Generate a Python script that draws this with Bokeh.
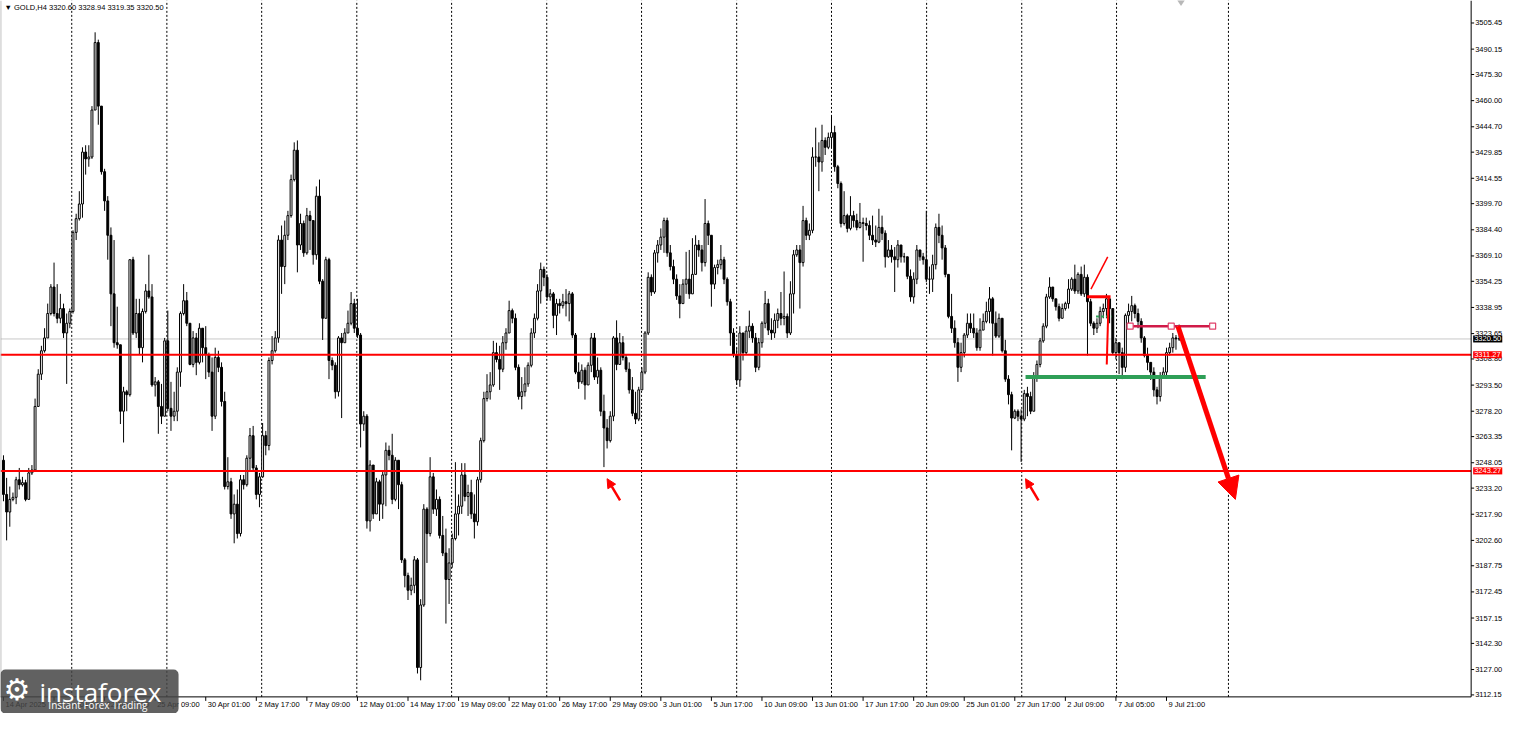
import numpy as np
from bokeh.plotting import figure
from bokeh.models import (Range1d, Label, Arrow, NormalHead, BoxAnnotation, ColumnDataSource)
from bokeh.core.properties import value
from bokeh.embed import file_html
from bokeh.resources import INLINE

FONT = "Liberation Sans"

# ---------------- data (GOLD, H4) ----------------
first_open = 3249.5
close = [
    3229.5, 3219.2, 3226.6, 3227.8, 3238.1, 3235.2, 3236.4, 3226.6, 3242.1, 3243.8,
    3281.0, 3299.9, 3313.6, 3321.1, 3335.4, 3350.9, 3335.4, 3332.6, 3338.3, 3324.0,
    3329.7, 3336.6, 3382.9, 3390.9, 3399.5, 3429.9, 3425.9, 3427.0, 3454.5, 3494.0,
    3456.8, 3418.4, 3401.3, 3381.2, 3346.9, 3318.3, 3317.1, 3278.2, 3289.6, 3287.9,
    3366.9, 3324.0, 3335.4, 3315.4, 3336.6, 3348.6, 3345.1, 3293.6, 3295.4, 3281.0,
    3275.3, 3319.4, 3279.9, 3275.3, 3278.2, 3301.1, 3335.4, 3342.9, 3329.7, 3305.6,
    3321.1, 3306.8, 3326.8, 3315.4, 3311.4, 3301.1, 3275.3, 3309.7, 3303.9, 3283.9,
    3234.1, 3236.9, 3218.1, 3223.8, 3206.6, 3238.1, 3235.2, 3250.7, 3263.9, 3245.0,
    3229.5, 3239.8, 3263.9, 3258.1, 3307.9, 3313.6, 3321.1, 3378.4, 3362.9, 3381.2,
    3392.7, 3413.8, 3431.0, 3375.5, 3388.1, 3370.9, 3392.7, 3389.8, 3369.8, 3404.1,
    3354.3, 3332.6, 3366.9, 3307.9, 3305.1, 3289.6, 3321.1, 3318.3, 3324.0, 3329.7,
    3341.2, 3326.8, 3322.8, 3270.7, 3275.3, 3214.0, 3246.7, 3218.1, 3236.9, 3223.8,
    3240.9, 3255.3, 3252.4, 3226.6, 3249.5, 3235.2, 3191.2, 3182.0, 3173.4, 3176.3,
    3191.2, 3128.2, 3164.8, 3220.9, 3206.6, 3239.8, 3220.9, 3226.6, 3205.5, 3195.2,
    3179.7, 3189.4, 3203.7, 3218.1, 3222.6, 3240.9, 3228.3, 3230.6, 3218.1, 3213.5,
    3238.1, 3261.0, 3285.6, 3289.6, 3293.6, 3312.5, 3308.5, 3302.8, 3318.3, 3324.0,
    3337.1, 3332.6, 3303.9, 3286.8, 3289.6, 3294.2, 3305.1, 3324.0, 3332.6, 3348.6,
    3361.2, 3356.6, 3345.1, 3346.9, 3334.3, 3341.2, 3340.0, 3342.3, 3341.2, 3346.9,
    3322.8, 3301.1, 3295.4, 3302.2, 3293.6, 3305.1, 3321.1, 3298.2, 3302.2, 3278.2,
    3268.4, 3261.0, 3275.3, 3321.1, 3305.6, 3318.3, 3309.7, 3302.8, 3290.7, 3277.0,
    3273.6, 3290.7, 3301.1, 3324.0, 3356.6, 3348.0, 3370.9, 3375.5, 3380.1, 3389.8,
    3370.9, 3362.9, 3355.5, 3345.7, 3341.2, 3352.6, 3355.5, 3346.9, 3358.3, 3375.5,
    3372.6, 3365.2, 3388.1, 3381.2, 3352.6, 3362.3, 3364.0, 3366.9, 3355.5, 3342.3,
    3324.0, 3311.4, 3296.5, 3324.0, 3312.5, 3325.1, 3328.0, 3321.1, 3303.9, 3318.3,
    3329.7, 3341.2, 3325.7, 3324.0, 3331.4, 3335.4, 3332.6, 3333.7, 3324.0, 3346.9,
    3369.8, 3372.6, 3365.2, 3389.8, 3381.2, 3384.1, 3427.0, 3427.0, 3424.1, 3436.7,
    3432.7, 3438.5, 3441.3, 3421.3, 3411.5, 3388.1, 3392.7, 3385.2, 3392.7, 3389.8,
    3385.8, 3388.6, 3388.1, 3386.9, 3381.2, 3378.4, 3377.2, 3385.8, 3382.4, 3368.6,
    3372.6, 3368.6, 3366.9, 3375.5, 3368.6, 3368.6, 3357.2, 3345.1, 3355.5, 3372.6,
    3368.6, 3366.9, 3355.5, 3355.5, 3364.0, 3385.8, 3381.2, 3373.8, 3358.3, 3333.7,
    3326.8, 3318.3, 3303.9, 3312.5, 3322.8, 3329.7, 3326.8, 3324.0, 3315.4, 3325.7,
    3330.8, 3336.6, 3344.0, 3329.7, 3322.2, 3332.6, 3313.6, 3297.0, 3287.9, 3274.2,
    3278.2, 3275.3, 3273.6, 3288.5, 3286.8, 3278.2, 3298.2, 3305.6, 3319.4, 3328.0,
    3345.1, 3350.9, 3344.0, 3339.4, 3332.6, 3338.3, 3341.2, 3349.7, 3355.5, 3348.6,
    3358.3, 3346.9, 3356.6, 3342.3, 3329.7, 3326.8, 3329.7, 3336.6, 3338.3, 3344.0,
    3338.3, 3312.5, 3318.3, 3312.5, 3303.9, 3334.3, 3336.6, 3340.0, 3335.4, 3330.8,
    3321.1, 3310.8, 3306.8, 3301.1, 3290.7, 3286.8, 3298.2, 3301.1, 3312.5, 3315.4,
    3321.1, 3320.6, 3320.5,
]
high = [
    3252.4, 3239.2, 3234.1, 3230.6, 3239.8, 3245.0, 3239.8, 3238.1, 3245.0, 3246.7,
    3285.6, 3302.8, 3316.5, 3326.8, 3341.2, 3352.6, 3365.2, 3352.6, 3346.9, 3341.2,
    3335.4, 3338.3, 3384.1, 3393.8, 3407.0, 3432.7, 3433.9, 3433.9, 3456.8, 3500.0,
    3495.7, 3455.0, 3420.1, 3404.1, 3385.8, 3378.4, 3339.4, 3317.1, 3292.5, 3290.7,
    3366.9, 3368.6, 3344.0, 3344.0, 3338.3, 3352.6, 3369.8, 3352.6, 3298.2, 3296.5,
    3294.2, 3321.1, 3337.1, 3295.4, 3289.6, 3303.9, 3336.6, 3352.6, 3348.0, 3329.7,
    3325.1, 3324.0, 3329.7, 3324.0, 3328.0, 3312.5, 3309.7, 3315.4, 3313.6, 3306.8,
    3289.6, 3251.3, 3239.2, 3229.5, 3232.4, 3240.9, 3240.9, 3252.4, 3268.4, 3269.6,
    3246.7, 3242.1, 3271.3, 3266.7, 3309.7, 3322.2, 3325.1, 3381.2, 3386.9, 3389.8,
    3395.5, 3416.7, 3435.6, 3436.7, 3393.8, 3389.8, 3397.2, 3395.5, 3386.9, 3409.8,
    3413.8, 3355.5, 3368.6, 3368.0, 3309.7, 3306.8, 3322.2, 3324.0, 3326.8, 3337.1,
    3348.0, 3344.0, 3344.0, 3324.0, 3278.2, 3276.5, 3249.5, 3243.8, 3239.2, 3238.1,
    3243.8, 3259.9, 3258.1, 3265.0, 3251.3, 3239.8, 3236.9, 3192.3, 3183.7, 3180.8,
    3193.4, 3192.3, 3168.2, 3223.8, 3222.0, 3251.3, 3242.1, 3232.4, 3228.3, 3216.9,
    3209.5, 3198.0, 3206.6, 3248.4, 3229.5, 3247.8, 3247.8, 3235.2, 3238.1, 3229.5,
    3239.8, 3262.7, 3289.6, 3299.9, 3301.1, 3319.4, 3318.3, 3316.5, 3322.2, 3326.8,
    3342.9, 3338.3, 3335.4, 3305.6, 3298.2, 3303.9, 3306.8, 3326.8, 3335.4, 3352.6,
    3365.2, 3362.9, 3358.3, 3349.7, 3348.0, 3344.0, 3344.0, 3346.9, 3349.7, 3348.6,
    3348.0, 3324.0, 3306.8, 3305.6, 3303.9, 3306.8, 3324.0, 3324.0, 3309.7, 3303.9,
    3287.9, 3273.6, 3278.2, 3322.2, 3331.4, 3324.0, 3322.2, 3311.4, 3306.8, 3298.2,
    3289.6, 3292.5, 3303.9, 3325.1, 3359.5, 3358.3, 3372.6, 3378.4, 3385.2, 3391.5,
    3391.5, 3375.5, 3366.9, 3358.3, 3352.6, 3355.5, 3371.5, 3372.6, 3379.5, 3381.2,
    3378.4, 3375.5, 3402.4, 3389.8, 3381.2, 3364.0, 3366.9, 3375.5, 3368.6, 3356.6,
    3344.0, 3326.8, 3315.4, 3328.0, 3321.1, 3328.0, 3337.1, 3329.7, 3324.0, 3321.1,
    3330.8, 3348.6, 3344.0, 3332.6, 3335.4, 3338.3, 3348.0, 3360.0, 3335.4, 3354.3,
    3372.6, 3375.5, 3375.5, 3398.4, 3391.5, 3388.1, 3432.7, 3444.2, 3435.6, 3445.9,
    3438.5, 3441.3, 3451.0, 3445.3, 3422.4, 3412.7, 3407.0, 3393.8, 3404.1, 3395.5,
    3393.8, 3400.1, 3391.5, 3391.5, 3389.8, 3392.7, 3386.9, 3396.7, 3392.7, 3384.1,
    3378.4, 3375.5, 3374.3, 3378.4, 3375.5, 3370.9, 3368.6, 3361.2, 3359.5, 3375.5,
    3372.6, 3370.9, 3395.5, 3362.9, 3369.8, 3388.1, 3393.8, 3386.9, 3375.5, 3358.3,
    3346.9, 3331.4, 3321.1, 3318.3, 3324.0, 3335.4, 3335.4, 3335.4, 3326.8, 3332.6,
    3335.4, 3342.3, 3350.9, 3345.1, 3336.6, 3335.4, 3329.7, 3320.0, 3299.3, 3289.6,
    3279.3, 3279.3, 3279.3, 3290.7, 3292.5, 3289.6, 3301.1, 3307.9, 3321.1, 3329.7,
    3346.9, 3356.6, 3350.9, 3344.0, 3341.2, 3341.2, 3342.3, 3355.5, 3356.6, 3364.0,
    3359.5, 3362.9, 3364.0, 3358.3, 3344.0, 3330.8, 3332.6, 3339.4, 3341.2, 3346.9,
    3344.0, 3338.3, 3321.1, 3318.3, 3315.4, 3335.4, 3341.2, 3345.7, 3341.2, 3338.3,
    3332.6, 3322.2, 3315.4, 3306.8, 3303.9, 3292.5, 3301.1, 3303.9, 3315.4, 3318.3,
    3324.0, 3322.8, 3328.94,
]
low = [
    3225.5, 3202.6, 3210.6, 3225.5, 3223.8, 3232.4, 3234.1, 3225.5, 3226.6, 3240.9,
    3242.7, 3281.0, 3296.5, 3312.5, 3321.1, 3334.3, 3333.7, 3329.7, 3329.7, 3321.1,
    3294.2, 3326.8, 3335.4, 3378.4, 3389.8, 3391.5, 3416.7, 3421.3, 3425.9, 3454.5,
    3445.9, 3416.7, 3395.5, 3366.9, 3328.0, 3315.4, 3314.8, 3270.7, 3259.9, 3278.2,
    3286.8, 3322.8, 3321.1, 3311.4, 3306.8, 3335.4, 3344.0, 3292.5, 3286.8, 3265.0,
    3270.7, 3275.3, 3278.2, 3266.7, 3272.4, 3272.4, 3292.5, 3334.3, 3328.0, 3305.1,
    3303.9, 3299.3, 3305.6, 3306.8, 3297.0, 3298.2, 3266.7, 3273.6, 3301.1, 3281.0,
    3232.4, 3232.4, 3215.2, 3200.9, 3203.7, 3204.9, 3232.4, 3234.1, 3243.8, 3242.7,
    3226.6, 3222.0, 3239.2, 3252.4, 3255.3, 3305.6, 3312.5, 3318.3, 3346.9, 3352.6,
    3378.4, 3391.5, 3412.7, 3359.5, 3372.6, 3368.6, 3369.8, 3372.6, 3364.0, 3366.9,
    3352.6, 3319.9, 3335.4, 3297.0, 3302.2, 3285.6, 3286.8, 3274.2, 3319.4, 3324.0,
    3328.5, 3324.0, 3321.1, 3257.0, 3266.7, 3209.5, 3207.8, 3215.2, 3220.9, 3214.0,
    3215.2, 3222.6, 3249.5, 3223.8, 3225.5, 3220.9, 3189.4, 3175.1, 3167.7, 3170.5,
    3171.7, 3124.7, 3120.7, 3163.7, 3189.4, 3204.9, 3218.1, 3216.9, 3203.7, 3193.4,
    3153.9, 3165.4, 3186.6, 3202.6, 3205.5, 3218.1, 3225.5, 3216.9, 3215.2, 3203.7,
    3211.2, 3236.4, 3259.9, 3283.9, 3285.0, 3292.5, 3306.8, 3290.7, 3301.1, 3314.2,
    3324.0, 3329.7, 3302.2, 3285.0, 3279.3, 3286.8, 3292.5, 3303.9, 3321.1, 3331.4,
    3341.2, 3351.4, 3342.9, 3342.9, 3326.8, 3322.8, 3335.4, 3338.3, 3333.7, 3330.8,
    3321.1, 3299.9, 3291.3, 3294.2, 3285.0, 3298.2, 3301.1, 3296.5, 3294.2, 3275.3,
    3245.5, 3256.4, 3259.9, 3272.4, 3302.2, 3306.8, 3307.9, 3301.1, 3288.5, 3275.3,
    3270.7, 3272.4, 3290.7, 3299.9, 3322.8, 3345.7, 3346.9, 3365.2, 3372.6, 3370.9,
    3368.6, 3360.6, 3352.6, 3343.4, 3332.6, 3341.2, 3346.9, 3344.0, 3346.9, 3369.8,
    3368.6, 3360.0, 3362.9, 3375.5, 3339.4, 3349.7, 3358.3, 3361.2, 3352.6, 3340.0,
    3316.5, 3309.7, 3293.6, 3292.5, 3307.9, 3311.4, 3321.1, 3318.3, 3301.1, 3302.2,
    3315.4, 3326.8, 3322.8, 3320.0, 3321.1, 3326.8, 3328.5, 3328.5, 3321.1, 3322.8,
    3335.4, 3368.6, 3338.3, 3362.9, 3378.4, 3378.4, 3382.4, 3421.3, 3407.0, 3418.4,
    3428.2, 3431.6, 3432.7, 3418.4, 3408.7, 3385.8, 3386.9, 3382.9, 3384.1, 3385.8,
    3384.1, 3385.2, 3365.7, 3384.1, 3378.4, 3375.5, 3374.3, 3376.6, 3378.4, 3362.3,
    3368.0, 3365.2, 3348.0, 3362.3, 3365.2, 3365.2, 3355.5, 3342.3, 3341.2, 3352.6,
    3366.3, 3364.0, 3353.7, 3346.9, 3348.0, 3361.2, 3376.6, 3366.9, 3356.6, 3332.6,
    3324.0, 3315.4, 3295.4, 3301.1, 3309.7, 3321.1, 3324.0, 3321.1, 3313.6, 3313.6,
    3326.8, 3329.7, 3329.7, 3310.8, 3321.1, 3321.1, 3312.5, 3295.4, 3282.2, 3255.3,
    3273.6, 3272.4, 3248.5, 3272.4, 3275.3, 3276.5, 3278.2, 3295.4, 3303.9, 3318.3,
    3326.8, 3344.0, 3342.3, 3337.1, 3330.8, 3332.6, 3337.1, 3338.3, 3348.6, 3346.9,
    3346.9, 3345.7, 3345.1, 3310.8, 3328.0, 3322.8, 3324.0, 3328.0, 3332.6, 3332.6,
    3329.7, 3311.4, 3308.5, 3299.9, 3297.0, 3301.1, 3329.7, 3330.8, 3332.6, 3326.8,
    3318.3, 3309.7, 3302.2, 3296.5, 3286.8, 3282.2, 3283.9, 3298.2, 3298.2, 3310.8,
    3312.5, 3314.2, 3319.35,
]

price_ticks = [3505.45, 3490.15, 3475.30, 3460.00, 3444.70, 3429.85, 3414.55, 3399.70,
               3384.40, 3369.10, 3354.25, 3338.95, 3323.65, 3308.80, 3293.50, 3278.20,
               3263.35, 3248.05, 3233.20, 3217.90, 3202.60, 3187.75, 3172.45, 3157.15,
               3142.30, 3127.00, 3112.15]
time_tick_bars = [0, 16, 32, 48, 64, 80, 96, 112, 128, 144, 160, 176, 192, 208, 224,
                  240, 256, 272, 288, 304, 320, 336, 352, 368]
time_labels = ["14 Apr 2025", "17 Apr 01:00", "22 Apr 17:00", "25 Apr 09:00", "30 Apr 01:00",
               "2 May 17:00", "7 May 09:00", "12 May 01:00", "14 May 17:00", "19 May 09:00",
               "22 May 01:00", "26 May 17:00", "29 May 09:00", "3 Jun 01:00", "5 Jun 17:00",
               "10 Jun 09:00", "13 Jun 01:00", "17 Jun 17:00", "20 Jun 09:00", "25 Jun 01:00",
               "27 Jun 17:00", "2 Jul 09:00", "7 Jul 05:00", "9 Jul 21:00"]
grid_bars = [21.6, 51.7, 81.7, 111.8, 141.8, 171.9, 201.9, 232.0, 262.0, 292.1,
             322.2, 352.2, 387.6]

title_text = "\u25bc GOLD,H4  3320.60 3328.94 3319.35 3320.50"
current_price = 3320.50
current_label = "3320.50"
level_prices = [3311.27, 3243.27]
level_labels = ["3311.27", "3243.27"]

# analyst drawings (bar index, price)
small_arrows = [(195.1, 3226.0, 191.0, 3238.7), (327.5, 3226.0, 323.4, 3238.7)]
trend_arrow = (371.6, 3328.0, 389.8, 3226.6)
crimson_level = (356.5, 382.6, 3328.0)
crimson_anchors = [356.5, 369.5, 382.6]
green_level = (323.4, 380.4, 3298.2)
green_dash = (345.7, 350.6, 3333.7)
red_box_top = (342.8, 350.3, 3345.2)
red_slant = (344.1, 3349.7, 349.4, 3368.6)
red_drop = (349.7, 3345.2, 349.1, 3305.6)

# ---------------- layout constants (view window in bar / price units) ----------------
X0, X1 = -0.94, 475.9          # whole canvas width
Y0, Y1 = 3101.27, 3518.62      # whole canvas height
AXIS_X = 464.4                 # price-scale border (bar units)
AXIS_Y = 3111.0                # time-scale border (price units)
W, H = 1507, 713
px_x = (X1 - X0) / W
px_y = (Y1 - Y0) / H

p = figure(width=W, height=H, x_range=Range1d(X0, X1), y_range=Range1d(Y0, Y1),
           x_axis_location=None, y_axis_location=None,
           output_backend="svg", toolbar_location=None, min_border=0,
           background_fill_color="white", border_fill_color="white",
           outline_line_color=None)
p.grid.visible = False

# dotted vertical grid
p.segment(x0=grid_bars, y0=[AXIS_Y] * len(grid_bars), x1=grid_bars,
          y1=[Y1] * len(grid_bars), line_color="black", line_width=1, line_dash="2 2")
# current price line
p.segment(x0=[X0], y0=[current_price], x1=[AXIS_X], y1=[current_price],
          line_color="#c8c8c8", line_width=1)

# candles
n = len(close)
idx = np.arange(n)
c = np.array(close)
o = np.concatenate([[first_open], c[:-1]])
hi = np.maximum(np.array(high), np.maximum(o, c))
lo = np.minimum(np.array(low), np.minimum(o, c))
up = c >= o
p.segment(idx, hi, idx, lo, line_color="black", line_width=1)
src_up = ColumnDataSource(dict(x=idx[up], top=c[up], bottom=o[up]))
src_dn = ColumnDataSource(dict(x=idx[~up], top=o[~up], bottom=c[~up]))
p.vbar(x="x", width=0.6, top="top", bottom="bottom", source=src_up,
       fill_color="white", line_color="black", line_width=1)
p.vbar(x="x", width=0.6, top="top", bottom="bottom", source=src_dn,
       fill_color="black", line_color="black", line_width=1)

# horizontal red levels
p.segment(x0=[X0] * 2, y0=level_prices, x1=[AXIS_X] * 2, y1=level_prices,
          line_color="#ff0000", line_width=2)

# drawings
p.segment(x0=[green_level[0]], y0=[green_level[2]], x1=[green_level[1]], y1=[green_level[2]],
          line_color="#2e9f57", line_width=4)
p.segment(x0=[green_dash[0]], y0=[green_dash[2]], x1=[green_dash[1]], y1=[green_dash[2]],
          line_color="#2e9f57", line_width=2, line_dash="3 2")
p.segment(x0=[red_box_top[0]], y0=[red_box_top[2]], x1=[red_box_top[1]], y1=[red_box_top[2]],
          line_color="#ff0000", line_width=3)
p.segment(x0=[red_slant[0]], y0=[red_slant[1]], x1=[red_slant[2]], y1=[red_slant[3]],
          line_color="#ff0000", line_width=1.5)
p.segment(x0=[red_drop[0]], y0=[red_drop[1]], x1=[red_drop[2]], y1=[red_drop[3]],
          line_color="#ff0000", line_width=2)
p.segment(x0=[crimson_level[0]], y0=[crimson_level[2]], x1=[crimson_level[1]],
          y1=[crimson_level[2]], line_color="#d01a48", line_width=2.5)
p.scatter(crimson_anchors, [crimson_level[2]] * len(crimson_anchors), marker="square",
          size=6, fill_color="white", line_color="#e0406a", line_width=1.2)

for (x0, y0, x1, y1) in small_arrows:
    p.add_layout(Arrow(x_start=x0, y_start=y0, x_end=x1, y_end=y1, line_color="#ff0000",
                       line_width=2.5, end=NormalHead(size=9, fill_color="#ff0000",
                                                      line_color="#ff0000")))

tx0, ty0, tx1, ty1 = trend_arrow
p.add_layout(Arrow(x_start=tx0, y_start=ty0, x_end=tx1, y_end=ty1, line_color="#ff0000",
                   line_width=5, end=NormalHead(size=22, fill_color="#ff0000",
                                                line_color="#ff0000")))
frac = 0.86
p.segment(x0=[tx0], y0=[ty0], x1=[tx0 + (tx1 - tx0) * frac], y1=[ty0 + (ty1 - ty0) * frac],
          line_color="white", line_width=1.3)

# ---------------- scales drawn by hand (MT4 style) ----------------
p.segment(x0=[AXIS_X], y0=[AXIS_Y], x1=[AXIS_X], y1=[Y1], line_color="black", line_width=1)
p.segment(x0=[X0], y0=[AXIS_Y], x1=[AXIS_X], y1=[AXIS_Y], line_color="black", line_width=1)
p.segment(x0=[X0 + 0.3 * px_x], y0=[AXIS_Y], x1=[X0 + 0.3 * px_x], y1=[Y1],
          line_color="#a0a0a0", line_width=1)
# price scale
p.segment(x0=[AXIS_X] * len(price_ticks), y0=price_ticks,
          x1=[AXIS_X + 3 * px_x] * len(price_ticks), y1=price_ticks,
          line_color="black", line_width=1)
p.text(x=[AXIS_X] * len(price_ticks), y=price_ticks, text=[f"{v:.2f}" for v in price_ticks],
       x_offset=4, text_baseline="middle", text_align="left", text_font=value(FONT),
       text_font_size="7.5px", text_color="black")
# time scale
p.segment(x0=time_tick_bars, y0=[AXIS_Y] * len(time_tick_bars), x1=time_tick_bars,
          y1=[AXIS_Y - 4 * px_y] * len(time_tick_bars), line_color="black", line_width=1)
p.text(x=time_tick_bars, y=[AXIS_Y] * len(time_tick_bars), text=time_labels,
       x_offset=2, y_offset=3, text_baseline="top", text_align="left",
       text_font=value(FONT), text_font_size="7.5px", text_color="black")

# price tags on the scale
p.add_layout(Label(x=AXIS_X, y=current_price, text=current_label, x_offset=2,
                   text_baseline="middle", text_align="left", text_font=FONT,
                   text_font_size="7.5px", text_color="white",
                   background_fill_color="black", padding=1))
for lv, lab in zip(level_prices, level_labels):
    p.add_layout(Label(x=AXIS_X, y=lv, text=lab, x_offset=2, text_baseline="middle",
                       text_align="left", text_font=FONT, text_font_size="7.5px",
                       text_color="white", background_fill_color="#ff0000", padding=1))

# chart-shift marker at the top
p.scatter([372.6], [Y1], marker="diamond", size=11, fill_color="#b8b8b8", line_color=None)

# title
p.add_layout(Label(x=X0, y=Y1, text=title_text, text_baseline="top",
                   x_offset=4, y_offset=-2, text_font=FONT,
                   text_font_size="7.5px", text_color="black"))

# watermark logo (bottom-left)
p.add_layout(BoxAnnotation(left=X0, right=55.4, bottom=Y0, top=3127.0,
                           fill_color="#454545", fill_alpha=0.85, line_color=None,
                           border_radius=5, level="overlay"))
p.add_layout(Label(x=X0, y=3115.5, text="\u2699", x_offset=3, text_baseline="middle",
                   text_font="DejaVu Sans", text_font_size="30px",
                   text_color="white", level="overlay"))
p.add_layout(Label(x=11.4, y=3113.6, text="instaforex", text_baseline="alphabetic",
                   text_font="Open Sans", text_font_size="26px",
                   text_color="white", level="overlay"))
p.add_layout(Label(x=14.2, y=3106.0, text="Instant Forex Trading", text_baseline="alphabetic",
                   text_font="Open Sans", text_font_size="10px",
                   text_color="white", level="overlay"))

open("out.html", "w").write(file_html(p, INLINE))
